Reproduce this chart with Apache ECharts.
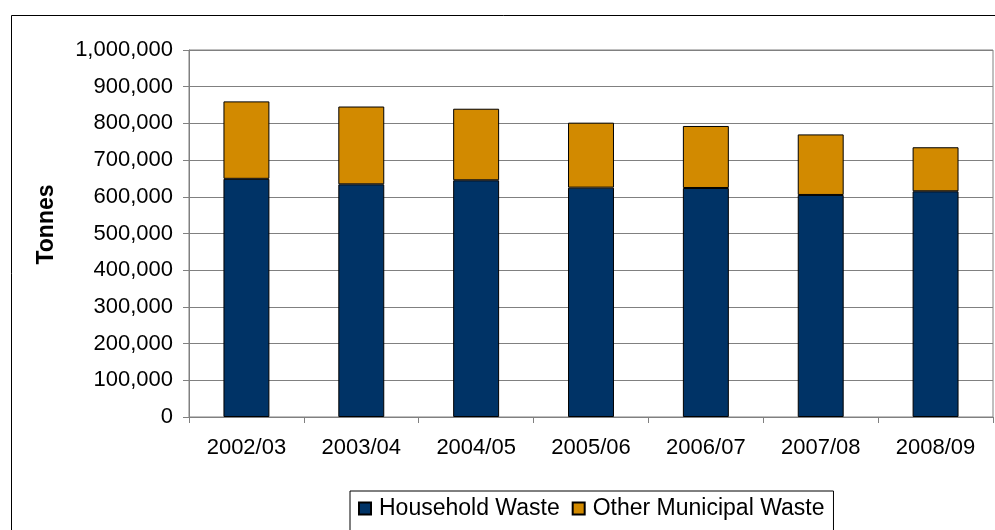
<!DOCTYPE html>
<html>
<head>
<meta charset="utf-8">
<script src="https://cdn.jsdelivr.net/npm/echarts@6/dist/echarts.min.js"></script>
<style>html,body{margin:0;padding:0;background:#fff}#c{width:995px;height:530px}</style>
</head>
<body>
<div id="c"></div>
<script>
const categories = ['2002/03','2003/04','2004/05','2005/06','2006/07','2007/08','2008/09'];
const household = [649000, 634000, 645000, 625000, 624000, 605000, 615000];
const otherMunicipal = [211000, 212000, 195000, 177000, 169000, 165000, 120000];
const seriesNames = ['Household Waste', 'Other Municipal Waste'];
const yAxisTitle = 'Tonnes';

const font = 'Liberation Sans, Arial, sans-serif';
const chart = echarts.init(document.getElementById('c'), null, {renderer: 'canvas'});
chart.setOption({
  animation: false,
  backgroundColor: '#fff',
  graphic: [{
    type: 'rect', left: 9, top: 13, shape: {width: 1100, height: 700},
    style: {fill: 'none', stroke: '#000', lineWidth: 1}, z: -1
  }],
  grid: {left: 189, right: 2, top: 50, bottom: 113, show: true, borderColor: '#808080', borderWidth: 1, backgroundColor: 'transparent'},
  legend: {
    left: 350, top: 491,
    padding: [6, 9, 30, 8],
    borderColor: '#000', borderWidth: 1,
    itemWidth: 12, itemHeight: 12, itemGap: 12,
    icon: 'rect',
    textStyle: {fontFamily: font, fontSize: 23, color: '#000', padding: [0, 0, 0, 3]},
    data: seriesNames
  },
  xAxis: {
    type: 'category', data: categories,
    axisLine: {lineStyle: {color: '#808080', width: 1}},
    axisTick: {show: true, length: 6, lineStyle: {color: '#808080'}},
    axisLabel: {fontFamily: font, fontSize: 22, color: '#000', margin: 20}
  },
  yAxis: {
    type: 'value', min: 0, max: 1000000, interval: 100000,
    name: yAxisTitle, nameLocation: 'middle', nameRotate: 90, nameGap: 131,
    nameTextStyle: {fontFamily: font, fontSize: 23, fontWeight: 'bold', color: '#000', padding: [0, 0, 0, 18]},
    axisLine: {show: true, lineStyle: {color: '#808080', width: 1}},
    axisTick: {show: true, length: 6, lineStyle: {color: '#808080'}},
    splitLine: {lineStyle: {color: '#808080', width: 1}},
    axisLabel: {fontFamily: font, fontSize: 22, color: '#000', margin: 16,
      formatter: v => v.toLocaleString('en-US')}
  },
  series: [
    {name: seriesNames[0], type: 'bar', stack: 'w', data: household, barWidth: '40%',
     itemStyle: {color: '#003366', borderColor: '#000', borderWidth: 1}},
    {name: seriesNames[1], type: 'bar', stack: 'w', data: otherMunicipal, barWidth: '40%',
     itemStyle: {color: '#D28A00', borderColor: '#000', borderWidth: 1}}
  ]
});
</script>
</body>
</html>
